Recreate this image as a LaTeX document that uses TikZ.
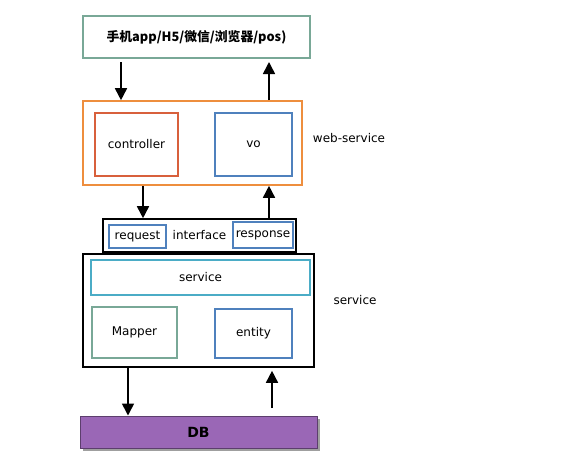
\documentclass[tikz,border=0pt]{standalone}
\usepackage{fontspec}
\setmainfont{DejaVu Sans}
\newfontfamily\cjk{Noto Sans CJK SC}
\usepackage{tikz}
\usetikzlibrary{positioning, arrows.meta, shadows}
\definecolor{clientgreen}{HTML}{79A897}
\definecolor{weborange}{HTML}{EE8E3E}
\definecolor{ctrlred}{HTML}{D8603C}
\definecolor{voblue}{HTML}{4F81BD}
\definecolor{svccyan}{HTML}{4BACC6}
\definecolor{dbpurple}{HTML}{9A67B6}
\tikzset{
    x=1pt, y=-1pt, % one unit is one pixel of the sketch, y runs downwards
    every node/.style={font=\fontsize{12}{14}\selectfont}, % text size for all labels
    box/.style={draw, line width=1.6pt, inner sep=0pt}, % the plain rectangles
    flow/.style={-{Triangle[length=12pt,width=12pt]}, line width=1.6pt}, % the thick arrows
}
\begin{document}
\begin{tikzpicture}
    \useasboundingbox (0,0) rectangle (581,472);
    % client
    \node[box, draw=clientgreen, minimum width=227pt, minimum height=42pt] (client) at (196.5,37)
        {\cjk\bfseries\fontsize{12.8}{15}\selectfont 手机app/H5/微信/浏览器/pos)};
    % web-service
    \node[box, draw=weborange, minimum width=219pt, minimum height=84pt] (web) at (192.5,143) {};
    \node[box, draw=ctrlred, minimum width=83pt, minimum height=63pt] (controller) at (136.5,144.5) {controller};
    \node[box, draw=voblue, minimum width=77pt, minimum height=63pt] (vo) at (253.5,144.5) {vo};
    \node (weblabel) at (349,138) {web-service};
    % interface
    \node[box, draw=black, minimum width=193pt, minimum height=33pt] (iface) at (199.5,235.5) {interface};
    \node[box, draw=voblue, line width=1.2pt, minimum width=57pt, minimum height=23pt] (request) at (137.5,236.5) {request};
    \node[box, draw=voblue, line width=1.2pt, minimum width=60pt, minimum height=26pt] (response) at (263,235) {response};
    % service
    \node[box, draw=black, minimum width=231pt, minimum height=113pt] (svc) at (198.5,310.5) {};
    \node[box, draw=svccyan, minimum width=219pt, minimum height=35pt] (svcinner) at (200.5,277.5) {service};
    \node[box, draw=clientgreen, minimum width=85pt, minimum height=51pt] (mapper) at (134.5,332.5) {Mapper};
    \node[box, draw=voblue, minimum width=77pt, minimum height=49pt] (entity) at (253.5,333.5) {entity};
    \node (svclabel) at (355,300) {service};
    % DB
    \node[box, draw=dbpurple!60!black, fill=dbpurple, line width=1pt, minimum width=237pt, minimum height=32pt,
        drop shadow={shadow xshift=2.5pt, shadow yshift=-2.5pt, fill=gray!75, opacity=1}] (db) at (198.5,432)
        {\bfseries\fontsize{14}{16}\selectfont DB};
    % arrows
    \coordinate (in1) at (121,62);
    \coordinate (out1) at (269,62);
    \coordinate (in3) at (272,408);
    \draw[flow] (in1) -- (in1 |- web.north);
    \draw[flow] (out1 |- web.north) -- (out1);
    \draw[flow] (web.south -| 143,0) -- (iface.north -| 143,0);
    \draw[flow] (iface.north -| out1) -- (web.south -| out1);
    \draw[flow] (svc.south -| 128,0) -- (db.north -| 128,0);
    \draw[flow] (in3) -- ([yshift=-3pt]svc.south -| in3);
\end{tikzpicture}
\end{document}
